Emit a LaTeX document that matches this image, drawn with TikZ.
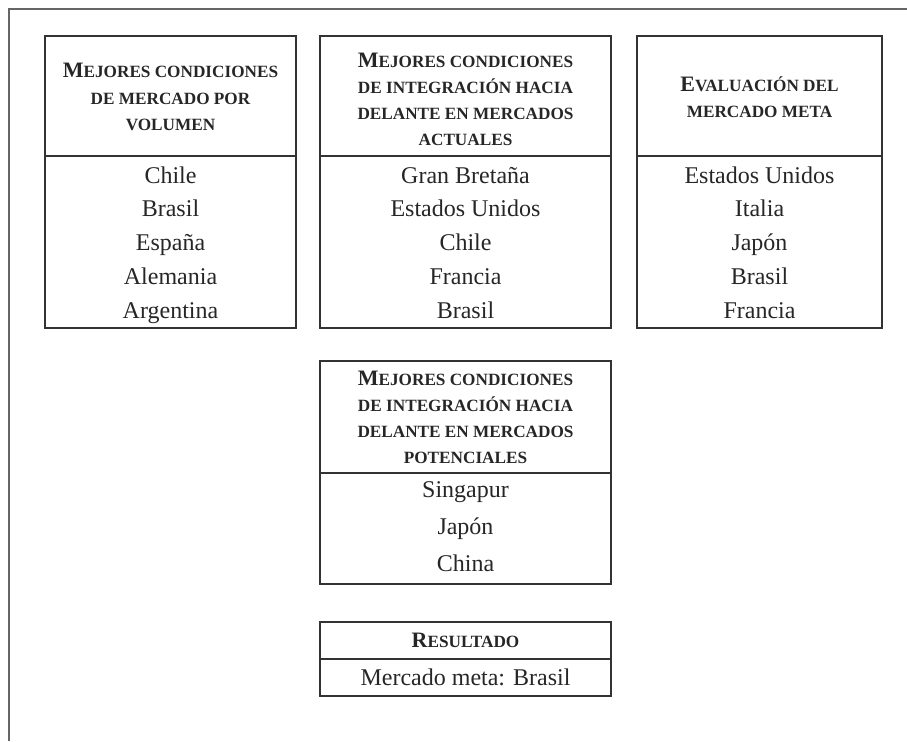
\documentclass[tikz,border=0pt]{standalone}
\usepackage{fontspec}
\setmainfont{Liberation Serif}
\newcommand{\bigc}[1]{{\fontsize{11}{13}\selectfont #1}}
\newcommand{\smc}[1]{{\fontsize{8.6}{13}\selectfont #1}}
\begin{document}
\begin{tikzpicture}[x=0.5pt,y=-0.5pt,
 boxline/.style={draw=black!80, line width=0.75pt},
 frameline/.style={draw=black!60, line width=1pt},
 hd/.style={anchor=base, inner sep=0pt, font=\bfseries, text=black!85},
 rw/.style={anchor=base, inner sep=0pt, font=\fontsize{12}{14}\selectfont, text=black!85}]
\useasboundingbox (0,0) rectangle (907,741);
\draw[frameline] (9,741) -- (9,9) -- (907,9);
% boxes
\draw[boxline] (45,36) rectangle (296,328);
\draw[boxline] (45,156) -- (296,156);
\draw[boxline] (320,36) rectangle (611,328);
\draw[boxline] (320,156) -- (611,156);
\draw[boxline] (637,36) rectangle (882,328);
\draw[boxline] (637,156) -- (882,156);
\draw[boxline] (320,361) rectangle (611,584);
\draw[boxline] (320,473) -- (611,473);
\draw[boxline] (320,622) rectangle (611,696);
\draw[boxline] (320,659) -- (611,659);
% headers
\node[hd] (h1a) at (170.5,77) {\bigc{M}\smc{EJORES CONDICIONES}};
\node[hd] (h1b) at (170.5,104) {\smc{DE MERCADO POR}};
\node[hd] (h1c) at (170.5,130) {\smc{VOLUMEN}};
\node[hd] (h2a) at (465.5,67) {\bigc{M}\smc{EJORES CONDICIONES}};
\node[hd] (h2b) at (465.5,93) {\smc{DE INTEGRACIÓN HACIA}};
\node[hd] (h2c) at (465.5,119) {\smc{DELANTE EN MERCADOS}};
\node[hd] (h2d) at (465.5,145) {\smc{ACTUALES}};
\node[hd] (h3a) at (759.5,91) {\bigc{E}\smc{VALUACIÓN DEL}};
\node[hd] (h3b) at (759.5,117) {\smc{MERCADO META}};
\node[hd] (h4a) at (465.5,385) {\bigc{M}\smc{EJORES CONDICIONES}};
\node[hd] (h4b) at (465.5,411) {\smc{DE INTEGRACIÓN HACIA}};
\node[hd] (h4c) at (465.5,437) {\smc{DELANTE EN MERCADOS}};
\node[hd] (h4d) at (465.5,463) {\smc{POTENCIALES}};
\node[hd] (h5a) at (465.5,647) {\bigc{R}\smc{ESULTADO}};
% rows
\foreach \t [count=\i] in {Chile,Brasil,España,Alemania,Argentina}
  \node[rw] (a\i) at (170.5,{183+33.75*(\i-1)}) {\t};
\foreach \t [count=\i] in {Gran Bretaña,Estados Unidos,Chile,Francia,Brasil}
  \node[rw] (b\i) at (465.5,{183+33.75*(\i-1)}) {\t};
\foreach \t [count=\i] in {Estados Unidos,Italia,Japón,Brasil,Francia}
  \node[rw] (c\i) at (759.5,{183+33.75*(\i-1)}) {\t};
\foreach \t [count=\i] in {Singapur,Japón,China}
  \node[rw] (d\i) at (465.5,{497+37*(\i-1)}) {\t};
\node[rw] (e1) at (465.5,685) {Mercado meta: Brasil};
\end{tikzpicture}
\end{document}
